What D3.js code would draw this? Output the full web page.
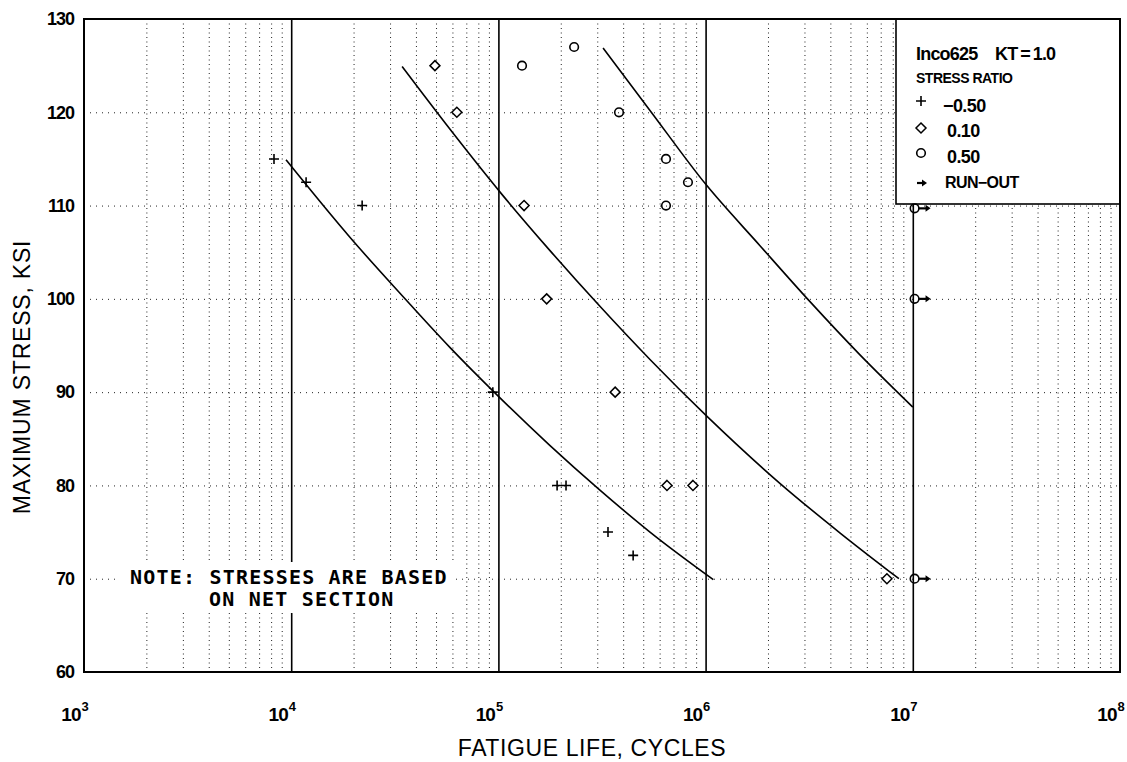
<!DOCTYPE html>
<html lang="en">
<head>
    <meta charset="UTF-8">
    <title>Inco625 fatigue life</title>
    <script src="https://d3js.org/d3.v7.min.js"></script>
    <style>
        body { margin: 0; background: #fff; }
        text { font-family: "Liberation Sans", Arial, sans-serif; fill: #000; }
        .tick text { font-weight: bold; letter-spacing: -1px; }
    </style>
</head>
<body>
    <div id="chart"></div>
    <script>
        // Data (cycles, ksi)
        const crossN = [8260, 11800, 22000, 94000, 192000, 212000, 338000, 447000];
        const crossS = [115, 112.5, 110, 90, 80, 80, 75, 72.5];

        const diamondN = [49400, 63000, 133000, 171000, 366000, 651000, 869000, 7500000];
        const diamondS = [125, 120, 110, 100, 90, 80, 80, 70];

        const circleN = [130000, 232000, 382000, 644000, 822000, 644000];
        const circleS = [125, 127, 120, 115, 112.5, 110];

        const runoutN = [10200000, 10200000, 10200000];
        const runoutS = [109.7, 100, 70];

        // fitted curves, sampled by eye
        const curveAN = [9440, 19200, 33500, 58300, 99500, 177000, 309000, 539000, 1090000];
        const curveAS = [114.9, 106.6, 100.6, 94.8, 89.6, 84.3, 79.5, 75.0, 69.9];
        const curveBN = [34300, 58300, 104000, 177000, 309000, 539000, 1016000, 2290000, 4460000, 8570000];
        const curveBS = [124.9, 118.2, 111.2, 105.2, 99.2, 93.5, 87.4, 80.2, 74.9, 70.0];
        const curveCN = [320000, 539000, 1000000, 1830000, 3190000, 5560000, 10000000];
        const curveCS = [126.9, 120.2, 112.3, 105.7, 99.7, 94.0, 88.4];

        const yTicks = [60, 70, 80, 90, 100, 110, 120, 130];
        const decades = [1e3, 1e4, 1e5, 1e6, 1e7, 1e8];
        const legendLabels = ["\u22120.50", "0.10", "0.50", "RUN\u2212OUT"];

        const width = 1127, height = 762;
        const margin = { top: 19, right: 7, bottom: 90, left: 84 };
        const iw = width - margin.left - margin.right;
        const ih = height - margin.top - margin.bottom;

        const svg = d3.select("#chart").append("svg")
            .attr("width", width).attr("height", height);
        const g = svg.append("g").attr("transform", `translate(${margin.left},${margin.top})`);

        const x = d3.scaleLog().domain([1e3, 1e8]).range([0, iw]);
        const y = d3.scaleLinear().domain([60, 130]).range([ih, 0]);

        // minor vertical grid (2..9 per decade)
        const minor = [];
        decades.slice(0, -1).forEach(d => { for (let k = 2; k <= 9; k++) minor.push(d * k); });
        g.append("g").attr("class", "grid")
            .call(d3.axisBottom(x).tickValues(minor).tickSize(ih).tickFormat(""))
            .call(s => s.select(".domain").remove())
            .selectAll("line")
            .attr("stroke", "#222").attr("stroke-width", 1).attr("stroke-dasharray", "1,3.5");

        // horizontal grid
        g.append("g").attr("class", "grid")
            .call(d3.axisLeft(y).tickValues(yTicks.slice(1, -1)).tickSize(-iw).tickFormat(""))
            .call(s => s.select(".domain").remove())
            .selectAll("line")
            .attr("stroke", "#222").attr("stroke-width", 1).attr("stroke-dasharray", "1,5");

        // decade lines
        g.append("g")
            .call(d3.axisBottom(x).tickValues(decades.slice(1, -1)).tickSize(ih).tickFormat(""))
            .call(s => s.select(".domain").remove())
            .selectAll("line")
            .attr("stroke", "#000").attr("stroke-width", 1.6);

        // note box
        g.append("rect").attr("x", 118 - margin.left).attr("y", 562 - margin.top)
            .attr("width", 338).attr("height", 51).attr("fill", "#fff");
        const note = g.append("text")
            .style("font-family", "'DejaVu Sans Mono', monospace")
            .style("font-weight", "bold").style("font-size", "20px")
            .style("letter-spacing", "1.2px");
        note.append("tspan").attr("x", 130 - margin.left).attr("y", 584 - margin.top)
            .text("NOTE: STRESSES ARE BASED");
        note.append("tspan").attr("x", 209 - margin.left).attr("y", 606 - margin.top)
            .text("ON NET SECTION");

        // curves
        const line = d3.line().x(d => x(d[0])).y(d => y(d[1])).curve(d3.curveMonotoneX);
        [[curveAN, curveAS], [curveBN, curveBS], [curveCN, curveCS]].forEach(([n, s]) => {
            g.append("path").datum(d3.zip(n, s))
                .attr("d", line).attr("fill", "none")
                .attr("stroke", "#000").attr("stroke-width", 1.6);
        });

        // symbols
        function cross(sel, cx, cy) {
            sel.append("path").attr("d", `M${cx - 5},${cy}H${cx + 5}M${cx},${cy - 5}V${cy + 5}`)
                .attr("stroke", "#000").attr("stroke-width", 1.6).attr("fill", "none");
        }
        function diamond(sel, cx, cy) {
            sel.append("path").attr("d", `M${cx},${cy - 5}L${cx + 5},${cy}L${cx},${cy + 5}L${cx - 5},${cy}Z`)
                .attr("stroke", "#000").attr("stroke-width", 1.5).attr("fill", "#fff");
        }
        function circle(sel, cx, cy) {
            sel.append("circle").attr("cx", cx).attr("cy", cy).attr("r", 4.3)
                .attr("stroke", "#000").attr("stroke-width", 1.6).attr("fill", "none");
        }
        function arrow(sel, x0, x1, cy) {
            sel.append("line").attr("x1", x0).attr("x2", x1 - 4).attr("y1", cy).attr("y2", cy)
                .attr("stroke", "#000").attr("stroke-width", 2.2);
            sel.append("path").attr("d", `M${x1 - 5},${cy - 3.5}L${x1},${cy}L${x1 - 5},${cy + 3.5}Z`)
                .attr("fill", "#000");
        }

        const marks = g.append("g");
        crossN.forEach((n, i) => cross(marks, x(n), y(crossS[i])));
        diamondN.forEach((n, i) => diamond(marks, x(n), y(diamondS[i])));
        circleN.forEach((n, i) => circle(marks, x(n), y(circleS[i])));

        // legend
        const lg = g.append("g").attr("transform", `translate(${896 - margin.left},0)`);
        lg.append("rect").attr("width", iw - (896 - margin.left)).attr("height", 185)
            .attr("fill", "#fff").attr("stroke", "#000").attr("stroke-width", 1.6);
        const lt = lg.append("text").attr("x", 20).attr("y", 41)
            .style("font-size", "18px").style("font-weight", "bold").style("letter-spacing", "-0.8px");
        lt.append("tspan").text("Inco625");
        lt.append("tspan").attr("x", 99).text("KT\u2009=\u20091.0");
        lg.append("text").attr("x", 20).attr("y", 64).text("STRESS RATIO")
            .style("font-size", "14px").style("font-weight", "bold").style("letter-spacing", "-0.5px");
        const rowY = [82, 109, 134, 164];
        const textY = [93, 118, 144, 169];
        const textX = [47, 51, 51, 49];
        cross(lg, 25, rowY[0]);
        diamond(lg, 25, rowY[1]);
        circle(lg, 25, rowY[2]);
        arrow(lg, 21, 31, rowY[3]);
        legendLabels.forEach((t, i) => {
            lg.append("text").attr("x", textX[i]).attr("y", textY[i]).text(t)
                .style("font-size", i === 3 ? "16px" : "18px").style("font-weight", "bold")
                .style("letter-spacing", "-0.6px");
        });

        // run-outs drawn over the legend edge
        const ro = g.append("g");
        runoutN.forEach((n, i) => {
            circle(ro, x(n), y(runoutS[i]));
            arrow(ro, x(n) + 4, x(n) + 16, y(runoutS[i]));
        });

        // border
        g.append("rect").attr("width", iw).attr("height", ih)
            .attr("fill", "none").attr("stroke", "#000").attr("stroke-width", 2);

        // y axis labels
        g.append("g")
            .call(d3.axisLeft(y).tickValues(yTicks).tickSize(0).tickPadding(10))
            .call(s => s.select(".domain").remove())
            .selectAll("text").style("font-size", "18px");

        // x axis labels with superscripts
        const xa = g.append("g").attr("transform", `translate(0,${ih})`)
            .call(d3.axisBottom(x).tickValues(decades).tickSize(0).tickFormat(""))
            .call(s => s.select(".domain").remove());
        xa.selectAll(".tick").each(function (d) {
            const t = d3.select(this);
            t.append("text").attr("x", -4).attr("y", 49).attr("text-anchor", "end")
                .style("font-size", "19px").text("10");
            t.append("text").attr("x", -3).attr("y", 39).attr("text-anchor", "start")
                .style("font-size", "13px").text(Math.round(Math.log10(d)));
        });

        // axis titles
        svg.append("text").attr("x", 592).attr("y", 756).attr("text-anchor", "middle")
            .style("font-size", "23px").style("letter-spacing", "0.6px")
            .text("FATIGUE LIFE, CYCLES");
        svg.append("text").attr("transform", "translate(30,377) rotate(-90)")
            .attr("text-anchor", "middle")
            .style("font-size", "23px").style("letter-spacing", "0.8px")
            .text("MAXIMUM STRESS, KSI");
    </script>
</body>
</html>
